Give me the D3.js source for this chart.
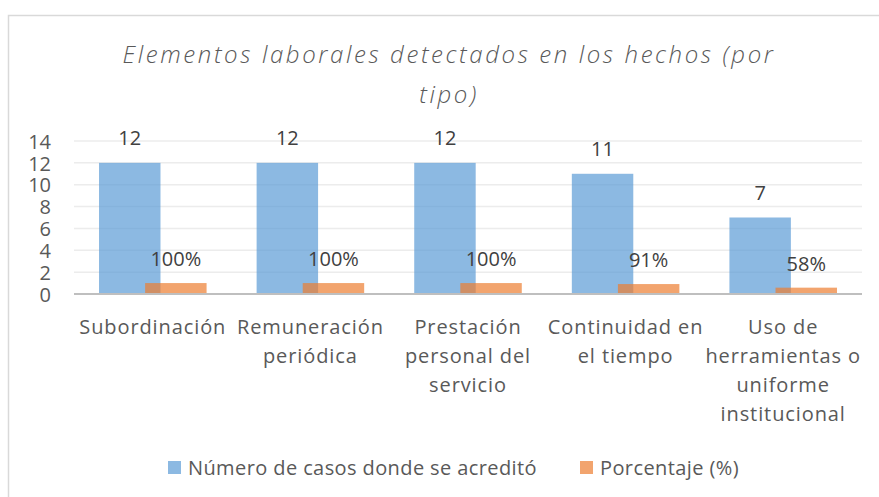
<!DOCTYPE html>
<html>
<head>
<meta charset="utf-8">
<script src="https://cdn.jsdelivr.net/npm/d3@7"></script>
<style>
  body { margin: 0; background: #fff; }
  text { font-family: "Open Sans", sans-serif; }
</style>
</head>
<body>
<div id="chart"></div>
<script>
var categories = ["Subordinación", "Remuneración periódica", "Prestación personal del servicio", "Continuidad en el tiempo", "Uso de herramientas o uniforme institucional"];
var categoryLines = [
  ["Subordinación"],
  ["Remuneración", "periódica"],
  ["Prestación", "personal del", "servicio"],
  ["Continuidad en", "el tiempo"],
  ["Uso de", "herramientas o", "uniforme", "institucional"]
];
var casos = [12, 12, 12, 11, 7];
var porcentaje = [1, 1, 1, 0.91, 0.58];
var porcentajeLabels = ["100%", "100%", "100%", "91%", "58%"];
var yTicks = [0, 2, 4, 6, 8, 10, 12, 14];
var seriesNames = ["Número de casos donde se acreditó", "Porcentaje (%)"];
var titleLines = ["Elementos laborales detectados en los hechos (por", "tipo)"];

var width = 879, height = 497,
  plotLeft = 74, plotRight = 862, plotTop = 141, plotBottom = 294;

var svg = d3.select("#chart").append("svg")
  .attr("width", width)
  .attr("height", height);

// chart frame
svg.append("rect")
  .attr("x", 8.5).attr("y", 15.5)
  .attr("width", 900).attr("height", 520)
  .attr("fill", "#fff")
  .attr("stroke", "#d9d9d9")
  .attr("stroke-width", 1.5);

svg.selectAll(".title").data(titleLines).enter()
  .append("text")
  .attr("class", "title")
  .attr("x", 449)
  .attr("y", function(d, i) { return 63 + i * 40; })
  .attr("text-anchor", "middle")
  .attr("font-size", 24)
  .attr("font-style", "italic")
  .attr("font-weight", 300)
  .attr("letter-spacing", 2.6)
  .attr("fill", "#595959")
  .text(function(d) { return d; });

var x = d3.scaleBand().domain(categories).range([plotLeft, plotRight]);
var y = d3.scaleLinear().domain([0, 14]).range([plotBottom, plotTop]);

var bw = x.bandwidth(),
  barW = bw * 0.39,
  offset = (bw - barW * 1.75) / 2;

// gridlines
svg.append("g")
  .selectAll("line").data(yTicks).enter()
  .append("line")
  .attr("x1", plotLeft).attr("x2", plotRight)
  .attr("y1", function(d) { return y(d); })
  .attr("y2", function(d) { return y(d); })
  .attr("stroke", "#ececec")
  .attr("stroke-width", 1.5);

// y labels
var yAxis = svg.append("g")
  .attr("transform", "translate(" + (plotLeft - 23) + ",0)")
  .call(d3.axisLeft(y).tickValues(yTicks).tickSize(0).tickPadding(0));
yAxis.select(".domain").remove();
yAxis.selectAll("text")
  .attr("font-family", "Open Sans")
  .attr("font-size", 20)
  .attr("fill", "#595959")
  .attr("dy", "0.36em");

// bars
svg.append("g").selectAll("rect").data(casos).enter()
  .append("rect")
  .attr("x", function(d, i) { return x(categories[i]) + offset; })
  .attr("y", function(d) { return y(d); })
  .attr("width", barW)
  .attr("height", function(d) { return y(0) - y(d); })
  .attr("fill", "#5b9bd5")
  .attr("fill-opacity", 0.7);

svg.append("g").selectAll("rect").data(porcentaje).enter()
  .append("rect")
  .attr("x", function(d, i) { return x(categories[i]) + offset + barW * 0.75; })
  .attr("y", function(d) { return y(d); })
  .attr("width", barW)
  .attr("height", function(d) { return y(0) - y(d); })
  .attr("fill", "#ed7d31")
  .attr("fill-opacity", 0.7);

// x axis baseline
svg.append("line")
  .attr("x1", plotLeft).attr("x2", plotRight)
  .attr("y1", y(0)).attr("y2", y(0))
  .attr("stroke", "#bfbfbf")
  .attr("stroke-width", 2);

// value labels
svg.append("g").selectAll("text").data(casos).enter()
  .append("text")
  .attr("x", function(d, i) { return x(categories[i]) + offset + barW / 2; })
  .attr("y", function(d) { return y(d) - 18; })
  .attr("text-anchor", "middle")
  .attr("font-size", 20)
  .attr("fill", "#404040")
  .text(function(d) { return d; });

svg.append("g").selectAll("text").data(porcentaje).enter()
  .append("text")
  .attr("x", function(d, i) { return x(categories[i]) + offset + barW * 1.25; })
  .attr("y", function(d) { return y(d) - 17; })
  .attr("text-anchor", "middle")
  .attr("font-size", 20)
  .attr("fill", "#404040")
  .text(function(d, i) { return porcentajeLabels[i]; });

// category labels
var cat = svg.append("g").selectAll("text").data(categories).enter()
  .append("text")
  .attr("x", function(d) { return x(d) + bw / 2; })
  .attr("y", 334)
  .attr("text-anchor", "middle")
  .attr("font-size", 20)
  .attr("letter-spacing", 0.9)
  .attr("fill", "#595959");
cat.selectAll("tspan").data(function(d, i) { return categoryLines[i]; }).enter()
  .append("tspan")
  .attr("x", function() { return d3.select(this.parentNode).attr("x"); })
  .attr("dy", function(d, i) { return i ? 29 : 0; })
  .text(function(d) { return d; });

// legend
var legendX = [168, 580], legendColors = ["#5b9bd5", "#ed7d31"];
var lg = svg.append("g").selectAll("g").data(seriesNames).enter()
  .append("g")
  .attr("transform", function(d, i) { return "translate(" + legendX[i] + ",461)"; });
lg.append("rect")
  .attr("width", 13).attr("height", 13)
  .attr("fill", function(d, i) { return legendColors[i]; })
  .attr("fill-opacity", 0.7);
lg.append("text")
  .attr("x", 20).attr("y", 14)
  .attr("font-size", 20)
  .attr("letter-spacing", 0.4)
  .attr("fill", "#595959")
  .text(function(d) { return d; });
</script>
</body>
</html>
